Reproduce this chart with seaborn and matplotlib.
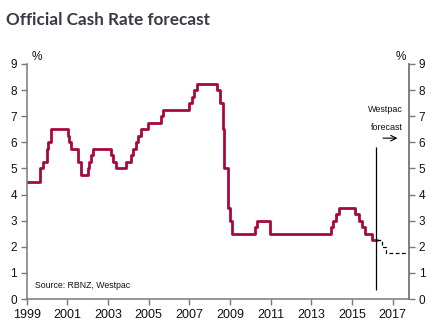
import matplotlib
matplotlib.use("Agg")
import matplotlib.pyplot as plt
import seaborn as sns
import pandas as pd

# ---- data ----
hist_dates = [1999.0, 1999.66, 1999.82, 1999.98, 2000.06, 2000.2, 2001.02, 2001.1,
              2001.18, 2001.54, 2001.67, 2002.0, 2002.08, 2002.16, 2002.28, 2003.13,
              2003.23, 2003.39, 2003.87, 2004.12, 2004.21, 2004.36, 2004.49, 2004.6,
              2004.98, 2005.6, 2005.68, 2007.0, 2007.11, 2007.23, 2007.36, 2008.38,
              2008.51, 2008.64, 2008.72, 2008.92, 2009.0, 2009.11, 2010.23, 2010.34,
              2010.97, 2013.97, 2014.08, 2014.21, 2014.38, 2015.15, 2015.36, 2015.48,
              2015.64, 2015.97, 2016.22]
hist_rates = [4.5, 5.0, 5.25, 5.75, 6.0, 6.5, 6.25, 6.0,
              5.75, 5.25, 4.75, 5.0, 5.25, 5.5, 5.75, 5.5,
              5.25, 5.0, 5.25, 5.5, 5.75, 6.0, 6.25, 6.5,
              6.75, 7.0, 7.25, 7.5, 7.75, 8.0, 8.25, 8.0,
              7.5, 6.5, 5.0, 3.5, 3.0, 2.5, 2.75, 3.0,
              2.5, 2.75, 3.0, 3.25, 3.5, 3.25, 3.0, 2.75,
              2.5, 2.25, 2.25]
fc_dates = [2016.22, 2016.46, 2016.66, 2017.75]
fc_rates = [2.25, 2.0, 1.75, 1.75]
year_ticks = [1999, 2001, 2003, 2005, 2007, 2009, 2011, 2013, 2015, 2017]
y_ticks = [0, 1, 2, 3, 4, 5, 6, 7, 8, 9]
forecast_start = 2016.2

sns.set_style("ticks")
plt.rcParams["font.family"] = ["Liberation Sans", "DejaVu Sans"]

hist = pd.DataFrame({"date": hist_dates, "rate": hist_rates})
fc = pd.DataFrame({"date": fc_dates, "rate": fc_rates})

fig = plt.figure(figsize=(4.46, 3.33), dpi=100)
ax = fig.add_axes([26.7 / 446, 1 - 299 / 333, (409 - 26.7) / 446, (299 - 64) / 333])

red = "#A6093D"
sns.lineplot(data=hist, x="date", y="rate", ax=ax, color=red, lw=2.0,
             drawstyle="steps-post", estimator=None)
sns.lineplot(data=fc, x="date", y="rate", ax=ax, color="black", lw=0.9,
             drawstyle="steps-post", estimator=None, linestyle=(0, (3, 2)))

ax.set_xlim(1999, 2017.8)
ax.set_ylim(0, 9)
ax.set_xticks(year_ticks)
ax.set_xticklabels([str(y) for y in year_ticks])
ax.set_yticks(y_ticks)
ax.set_xlabel("")
ax.set_ylabel("")

ax2 = ax.twinx()
ax2.set_ylim(0, 9)
ax2.set_yticks(y_ticks)

spine_c = "#7a7a7a"
for a in (ax, ax2):
    a.spines["top"].set_visible(False)
    for s in ("left", "right", "bottom"):
        a.spines[s].set_color(spine_c)
        a.spines[s].set_linewidth(1.1)
    a.tick_params(axis="both", direction="out", length=4, width=1.0,
                  color=spine_c, labelcolor="#111111", pad=3)
ax.tick_params(axis="y", labelsize=8.5)
ax.tick_params(axis="x", labelsize=9)
ax2.tick_params(axis="y", labelsize=8.5)
ax2.spines["left"].set_visible(False)
ax2.spines["bottom"].set_visible(False)
ax.spines["right"].set_visible(True)

# forecast marker line and annotation
ax.vlines(forecast_start, 0.34, 5.83, color="black", lw=0.9)
ax.text(2016.63, 7.24, "Westpac", ha="center", va="center", fontsize=6.5, color="#111111")
ax.text(2016.7, 6.56, "forecast", ha="center", va="center", fontsize=6.5, color="#111111")
ax.annotate("", xy=(2017.37, 6.16), xytext=(2016.39, 6.16),
            arrowprops=dict(arrowstyle="->", color="black", lw=0.8))

ax.text(1999.41, 0.5, "Source: RBNZ, Westpac", ha="left", va="center",
        fontsize=6.3, color="#111111")

fig.text(37 / 446, 1 - 57 / 333, "%", ha="center", va="center", fontsize=8.5, color="#111111")
fig.text(401 / 446, 1 - 57 / 333, "%", ha="center", va="center", fontsize=8.5, color="#111111")

fig.text(6 / 446, 1 - 20 / 333, "Official Cash Rate forecast", ha="left", va="center",
         fontsize=12.3, fontweight="bold", color="#3a3a44", family=["Lato", "DejaVu Sans"])

fig.savefig("out.png", dpi=100)
